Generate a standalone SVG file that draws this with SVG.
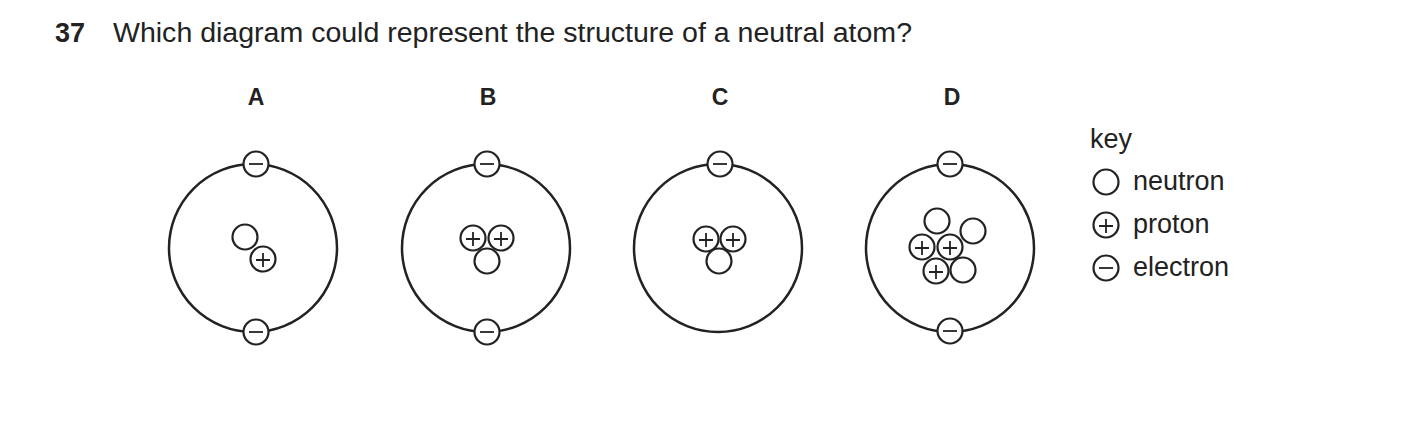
<svg xmlns="http://www.w3.org/2000/svg" width="1403" height="432" viewBox="0 0 1403 432">
<style>
text{font-family:"Liberation Sans",Arial,sans-serif;fill:#222}
.o{fill:none;stroke:#222;stroke-width:2.5}
.p{fill:#fff;stroke:#222;stroke-width:2.2}
.s{stroke:#222;stroke-width:1.8}
.b{font-weight:bold}
.t{font-size:27px}
</style>
<defs>
<g id="n"><circle class="p" r="12.5"/></g>
<g id="pr"><circle class="p" r="12.5"/><path class="s" d="M-7 1h14M0-6v14"/></g>
<g id="e"><circle class="p" r="12.5"/><path class="s" d="M-7 0h14"/></g>
</defs>
<text x="55" y="42" class="t b">37</text>
<text x="113" y="42" class="t" textLength="799" lengthAdjust="spacingAndGlyphs">Which diagram could represent the structure of a neutral atom?</text>
<g id="atomA">
<text x="256" y="105" font-size="23" class="b" text-anchor="middle">A</text>
<circle class="o" cx="253" cy="248" r="84"/>
<use href="#n" x="245" y="237"/><use href="#pr" x="263" y="259"/>
<use href="#e" x="256" y="164"/><use href="#e" x="256" y="332"/>
</g>
<g id="atomB">
<text x="488" y="105" font-size="23" class="b" text-anchor="middle">B</text>
<circle class="o" cx="486" cy="248" r="84"/>
<use href="#n" x="487" y="261"/><use href="#pr" x="473" y="238"/><use href="#pr" x="501" y="238"/>
<use href="#e" x="487" y="164"/><use href="#e" x="487" y="332"/>
</g>
<g id="atomC">
<text x="720" y="105" font-size="23" class="b" text-anchor="middle">C</text>
<circle class="o" cx="718" cy="248" r="84"/>
<use href="#n" x="719" y="261"/><use href="#pr" x="706" y="239"/><use href="#pr" x="733" y="239"/>
<use href="#e" x="720" y="164"/>
</g>
<g id="atomD">
<text x="952" y="105" font-size="23" class="b" text-anchor="middle">D</text>
<circle class="o" cx="950" cy="248" r="84"/>
<use href="#n" x="937" y="221"/><use href="#n" x="973" y="231"/><use href="#n" x="963" y="270"/>
<use href="#pr" x="922" y="247"/><use href="#pr" x="950" y="247"/><use href="#pr" x="936" y="271"/>
<use href="#e" x="950" y="164"/><use href="#e" x="950" y="331"/>
</g>
<g id="key">
<text x="1090" y="148" class="t">key</text>
<use href="#n" x="1106" y="182"/><text x="1133" y="190" class="t">neutron</text>
<use href="#pr" x="1106" y="225"/><text x="1133" y="233" class="t">proton</text>
<use href="#e" x="1106" y="268"/><text x="1133" y="276" class="t">electron</text>
</g>
</svg>
